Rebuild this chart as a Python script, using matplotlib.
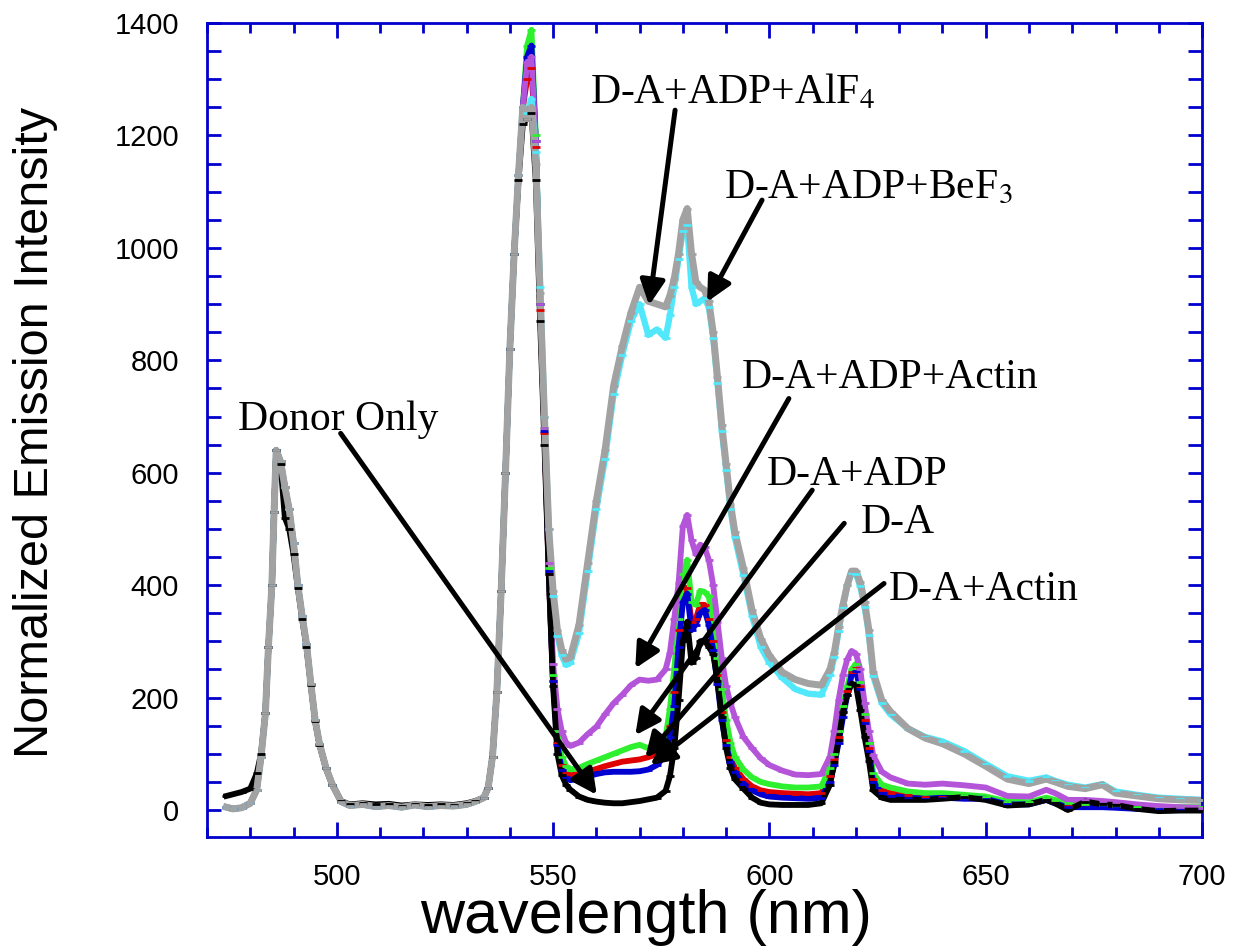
import matplotlib
matplotlib.use("Agg")
import matplotlib.pyplot as plt
from matplotlib.ticker import MultipleLocator

plt.rcParams["font.family"] = ["Liberation Sans", "DejaVu Sans"]
plt.rcParams["mathtext.fontset"] = "stix"

# Tb donor band (470-543 nm), the same for every sample after normalisation
wl_band = [474.5, 476, 478, 480, 481.5, 482.5, 483.5, 484.2, 485, 485.5,
           486, 487, 488, 489, 490, 491, 492, 493, 494, 495,
           496, 497.5, 499, 501, 503, 506, 509, 512, 515, 518,
           521, 524, 527, 530, 532, 534, 535, 536, 537, 538,
           539, 540, 541, 542, 543]
band = [5, 2, 4, 12, 36, 95, 172, 290, 400, 530,
        640, 620, 575, 535, 475, 400, 345, 295, 225, 160,
        118, 75, 45, 15, 8, 10, 6, 8, 5, 9,
        6, 8, 7, 10, 15, 22, 40, 95, 210, 390,
        600, 820, 990, 1130, 1250]
band_donor_only = [25, 28, 32, 38, 65, 100, 172, 290, 400, 530,
                   640, 615, 520, 500, 455, 395, 340, 290, 222, 158,
                   116, 74, 44, 16, 10, 12, 10, 11, 8, 10,
                   9, 10, 9, 12, 16, 22, 40, 95, 210, 390,
                   600, 820, 990, 1120, 1220]

# 544-700 nm, one list per sample
wl_tail = [544, 545, 546, 547, 548, 549, 550, 551, 552, 553, 554,
           556, 558, 560, 562, 564, 566, 568, 570, 572, 574, 576,
           577, 578, 579, 580, 581, 582, 583, 584, 585, 586, 587, 588, 589, 590, 591, 592,
           594, 596, 598, 600, 603, 606, 609, 612,
           614, 615, 616, 617, 618, 619, 620, 621, 622, 623, 624,
           626, 628, 632, 636, 640, 645, 650, 655, 660,
           664, 666, 669, 673, 677, 680, 685, 690, 695, 700]

donor_only = [1230, 1240, 1120, 870, 650, 420, 220, 100, 62, 45, 36,
              24, 18, 15, 13, 12, 12, 14, 16, 19, 22, 34,
              60, 110, 196, 300, 335, 262, 270, 300, 302, 290, 278, 230, 165, 110, 75, 55,
              38, 22, 13, 10, 9, 9, 9, 12,
              45, 85, 125, 175, 205, 225, 222, 178, 130, 88, 35,
              22, 18, 18, 18, 20, 23, 18, 8, 10,
              18, 12, 0, 15, 10, 9, 2, -2, -1, -1]
da = [1300, 1320, 1180, 890, 670, 420, 230, 120, 80, 66, 62,
      64, 68, 73, 78, 82, 86, 88, 90, 94, 100, 115,
      150, 210, 320, 395, 395, 335, 340, 365, 365, 340, 300, 240, 175, 125, 95, 75,
      55, 42, 35, 32, 30, 29, 28, 30,
      60, 90, 130, 175, 212, 245, 253, 220, 160, 110, 55,
      35, 30, 26, 24, 24, 22, 22, 12, 12,
      20, 15, 8, 8, 7, 6, 4, 3, 3, 3]
da_actin = [1340, 1360, 1190, 900, 675, 425, 230, 115, 72, 58, 53,
            56, 60, 64, 67, 68, 68, 68, 69, 72, 80, 98,
            130, 185, 290, 370, 385, 320, 330, 350, 356, 330, 285, 225, 160, 115, 85, 67,
            47, 35, 28, 24, 22, 21, 20, 22,
            50, 80, 120, 165, 205, 240, 248, 215, 155, 105, 50,
            30, 25, 22, 20, 22, 20, 20, 10, 10,
            18, 12, 5, 5, 5, 4, 2, 1, 2, 2]
da_adp = [1360, 1388, 1200, 900, 680, 430, 240, 140, 95, 78, 72,
          75, 82, 88, 94, 100, 106, 112, 116, 110, 118, 130,
          180, 250, 340, 420, 445, 370, 365, 390, 388, 380, 330, 270, 215, 160, 120, 95,
          72, 58, 50, 46, 42, 40, 40, 42,
          75, 100, 140, 185, 220, 250, 260, 228, 170, 120, 65,
          45, 40, 33, 30, 30, 27, 24, 15, 14,
          22, 18, 12, 10, 9, 8, 6, 5, 5, 5]
da_adp_actin = [1330, 1340, 1190, 900, 680, 440, 260, 180, 140, 120, 114,
                120, 135, 148, 170, 190, 205, 222, 232, 230, 232, 250,
                280, 340, 403, 505, 525, 480, 455, 472, 468, 445, 400, 335, 270, 220, 190, 166,
                130, 110, 92, 80, 70, 63, 62, 64,
                95, 140, 196, 240, 268, 283, 278, 250, 190, 140, 97,
                68, 58, 47, 45, 47, 44, 40, 25, 24,
                36, 30, 18, 18, 16, 14, 10, 7, 5, 4]
da_adp_alf4 = [1240, 1265, 1170, 930, 700, 500, 380, 310, 275, 258, 262,
               315, 425, 535, 625, 740, 810, 870, 900, 845, 855, 840,
               880, 930, 980, 1030, 1040, 930, 900, 905, 910, 895, 840, 760, 675, 605, 535, 485,
               418, 345, 290, 262, 235, 215, 207, 205,
               240, 272, 318, 362, 400, 422, 420, 398, 362, 312, 238,
               190, 170, 145, 130, 122, 105, 82, 60, 52,
               58, 52, 45, 40, 46, 33, 27, 22, 20, 18]
da_adp_bef3 = [1230, 1250, 1150, 920, 700, 500, 390, 320, 285, 268, 272,
               330, 440, 550, 640, 755, 825, 885, 930, 905, 900, 895,
               915, 945, 990, 1050, 1070, 990, 940, 930, 925, 905, 850, 770, 685, 615, 545, 495,
               430, 355, 305, 275, 245, 232, 225, 222,
               250, 280, 326, 365, 400, 425, 425, 405, 370, 320, 245,
               195, 175, 145, 128, 118, 100, 78, 55, 47,
               55, 50, 42, 38, 45, 30, 25, 20, 18, 17]

# drawing order, bottom to top: (donor band, tail, colour, line width)
series = [
    (band, da, "#e00000", 4.2),
    (band, da_adp, "#2ef02e", 4.2),
    (band, da_actin, "#0000d0", 4.2),
    (band, da_adp_actin, "#b454d8", 4.2),
    (band, da_adp_alf4, "#50e8fa", 4.5),
    (band_donor_only, donor_only, "#000000", 4.2),
    (band, da_adp_bef3, "#a2a2a2", 5.0),
]

labels = [
    ("D-A+ADP+AlF$_4$", 558.5, 1258, (578.2, 1245), (572.2, 898)),
    ("D-A+ADP+BeF$_3$", 589.4, 1089, (598.3, 1085), (585.6, 904)),
    ("D-A+ADP+Actin", 593.6, 750, (604.5, 732), (569.0, 252)),
    ("D-A+ADP", 599.4, 578, (609.9, 569), (569.0, 133)),
    ("D-A", 621.1, 492, (617.3, 510), (571.3, 93)),
    ("D-A+Actin", 627.6, 374, (626.5, 403), (572.5, 80)),
    ("Donor Only", 477.1, 676, (500.9, 670), (560.1, 27)),
]

fig = plt.figure(figsize=(12.35, 9.52), dpi=100)
ax = fig.add_axes([0.1676, 0.1208, 0.8057, 0.855])

wl = wl_band + wl_tail
for head, tail, c, lw in series:
    ax.plot(wl, head + tail, color=c, lw=lw, zorder=2)
# short dash at every point, drawn over all the lines
for head, tail, c, lw in series:
    ax.plot(wl, head + tail, ls="none", marker="_", ms=6, mew=2, color=c, zorder=3)

for txt, tx, ty, tail_xy, head_xy in labels:
    ax.text(tx, ty, txt, family=["Liberation Serif", "DejaVu Serif"], fontsize=30,
            ha="left", va="baseline", zorder=6)
    ax.annotate("", xy=head_xy, xytext=tail_xy, zorder=5,
                arrowprops=dict(arrowstyle="-|>,head_length=0.5,head_width=0.25",
                                lw=3.6, color="black", mutation_scale=30,
                                shrinkA=0, shrinkB=0))

ax.set_xlim(470, 700)
ax.set_ylim(-48, 1400)
ax.xaxis.set_major_locator(MultipleLocator(50))
ax.xaxis.set_minor_locator(MultipleLocator(10))
ax.yaxis.set_major_locator(MultipleLocator(200))
ax.yaxis.set_minor_locator(MultipleLocator(50))

blue = "#0000cc"
for s in ax.spines.values():
    s.set_color(blue)
    s.set_linewidth(2)
ax.tick_params(which="both", direction="in", top=True, right=True, color=blue,
               width=2, labelsize=21)
ax.tick_params(axis="x", which="major", length=11, pad=19)
ax.tick_params(axis="x", which="minor", length=7)
ax.tick_params(axis="y", which="both", length=10, pad=20)

fig.text(36 / 1235, 1 - 432 / 952, "Normalized Emission Intensity", rotation=90,
         ha="center", va="center", fontsize=35)
fig.text(646 / 1235, 1 - 918 / 952, "wavelength (nm)", ha="center", va="center",
         fontsize=44)

fig.savefig("out.png", dpi=100)
